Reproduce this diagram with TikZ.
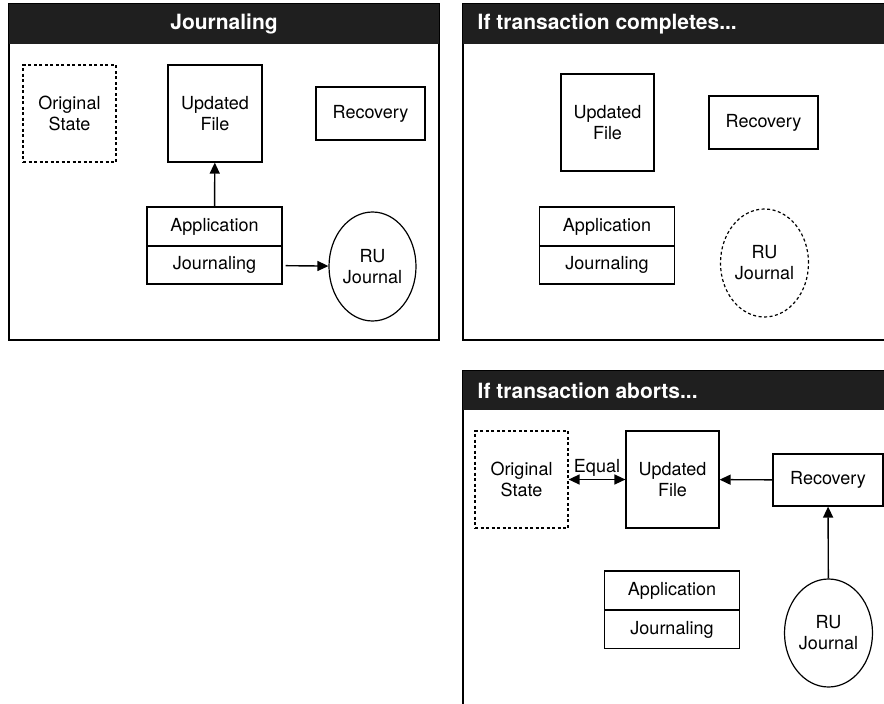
\documentclass[tikz,border=0pt]{standalone}
\usepackage{fontspec}
\setmainfont{TeX Gyre Heros}
\usetikzlibrary{positioning,shapes.geometric,arrows.meta}
\tikzset{
  box/.style={rectangle,draw,line width=1.2pt,inner sep=0pt,align=center,font=\fontsize{18}{21}\selectfont},
  ghost/.style={dash pattern=on 3pt off 2.5pt},
  journal/.style={ellipse,draw,line width=1.2pt,inner sep=0pt,align=center,minimum width=88pt,minimum height=108pt,font=\fontsize{18}{21}\selectfont},
  header/.style={fill=black!88},
  title/.style={text=white,font=\fontsize{21}{24}\selectfont\bfseries,inner sep=0pt},
  frame/.style={draw,line width=1.2pt},
  arr/.style={-{Triangle[length=11pt,width=10pt]}},
  biarr/.style={{Triangle[length=11pt,width=10pt]}-{Triangle[length=11pt,width=10pt]}}
}
\begin{document}
\begin{tikzpicture}[x=1pt,y=-1pt,line width=1.4pt]
\useasboundingbox (0,0) rectangle (884,704);
\clip (0,0) rectangle (884,704);
% Panels
\draw[frame] (9,4) rectangle (439,340);
\fill[header] (9,4) rectangle (439,44);
\draw[frame] (463,4) rectangle (895,340);
\fill[header] (463,4) rectangle (895,44);
\draw[frame] (463,371) rectangle (895,715);
\fill[header] (463,371) rectangle (895,410);
% Titles
\node[title] (title1) at (224,24) {Journaling};
\node[title,anchor=west] (title2) at (477,24) {If transaction completes...};
\node[title,anchor=west] (title3) at (477,391) {If transaction aborts...};
% Journaling
\node[box,ghost,minimum width=93pt,minimum height=97pt] (orig1) at (69.5,113.5) {Original\\State};
\node[box,minimum width=94pt,minimum height=97pt] (file1) at (215,113.5) {Updated\\File};
\node[box,minimum width=109pt,minimum height=53pt] (rec1) at (370.5,113.5) {Recovery};
\node[box,minimum width=135pt,minimum height=39pt] (app1) at (214.5,226.5) {Application};
\node[box,minimum width=135pt,minimum height=38pt] (jrn1) at (214.5,265) {Journaling};
\node[journal,minimum width=87pt,minimum height=109pt] (ru1) at (372.5,266.5) {RU\\Journal};
% If transaction completes
\node[box,minimum width=93pt,minimum height=97pt] (file2) at (607.5,122.5) {Updated\\File};
\node[box,minimum width=109pt,minimum height=53pt] (rec2) at (763.5,122.5) {Recovery};
\node[box,minimum width=135pt,minimum height=39pt] (app2) at (607,226.5) {Application};
\node[box,minimum width=135pt,minimum height=38pt] (jrn2) at (607,265) {Journaling};
\node[journal,ghost] (ru2) at (764.5,263) {RU\\Journal};
% If transaction aborts
\node[box,ghost,minimum width=93pt,minimum height=97pt] (orig3) at (521.5,479.5) {Original\\State};
\node[box,minimum width=93pt,minimum height=97pt] (file3) at (672.5,479.5) {Updated\\File};
\node[box,minimum width=110pt,minimum height=52pt] (rec3) at (828,480) {Recovery};
\node[box,minimum width=135pt,minimum height=39pt] (app3) at (672,590.5) {Application};
\node[box,minimum width=135pt,minimum height=38pt] (jrn3) at (672,629.5) {Journaling};
\node[journal] (ru3) at (828.5,633) {RU\\Journal};
% Draw the arrows
\draw[arr] (app1) -- (file1);
\draw[arr,shorten <=3pt] (jrn1) -- (ru1);
\draw[biarr] (orig3) -- node[above,font=\fontsize{18}{21}\selectfont,inner sep=2pt] (equal) {Equal} (file3);
\draw[arr] (rec3) -- (file3);
\draw[arr] (ru3) -- (rec3);
\end{tikzpicture}
\end{document}
